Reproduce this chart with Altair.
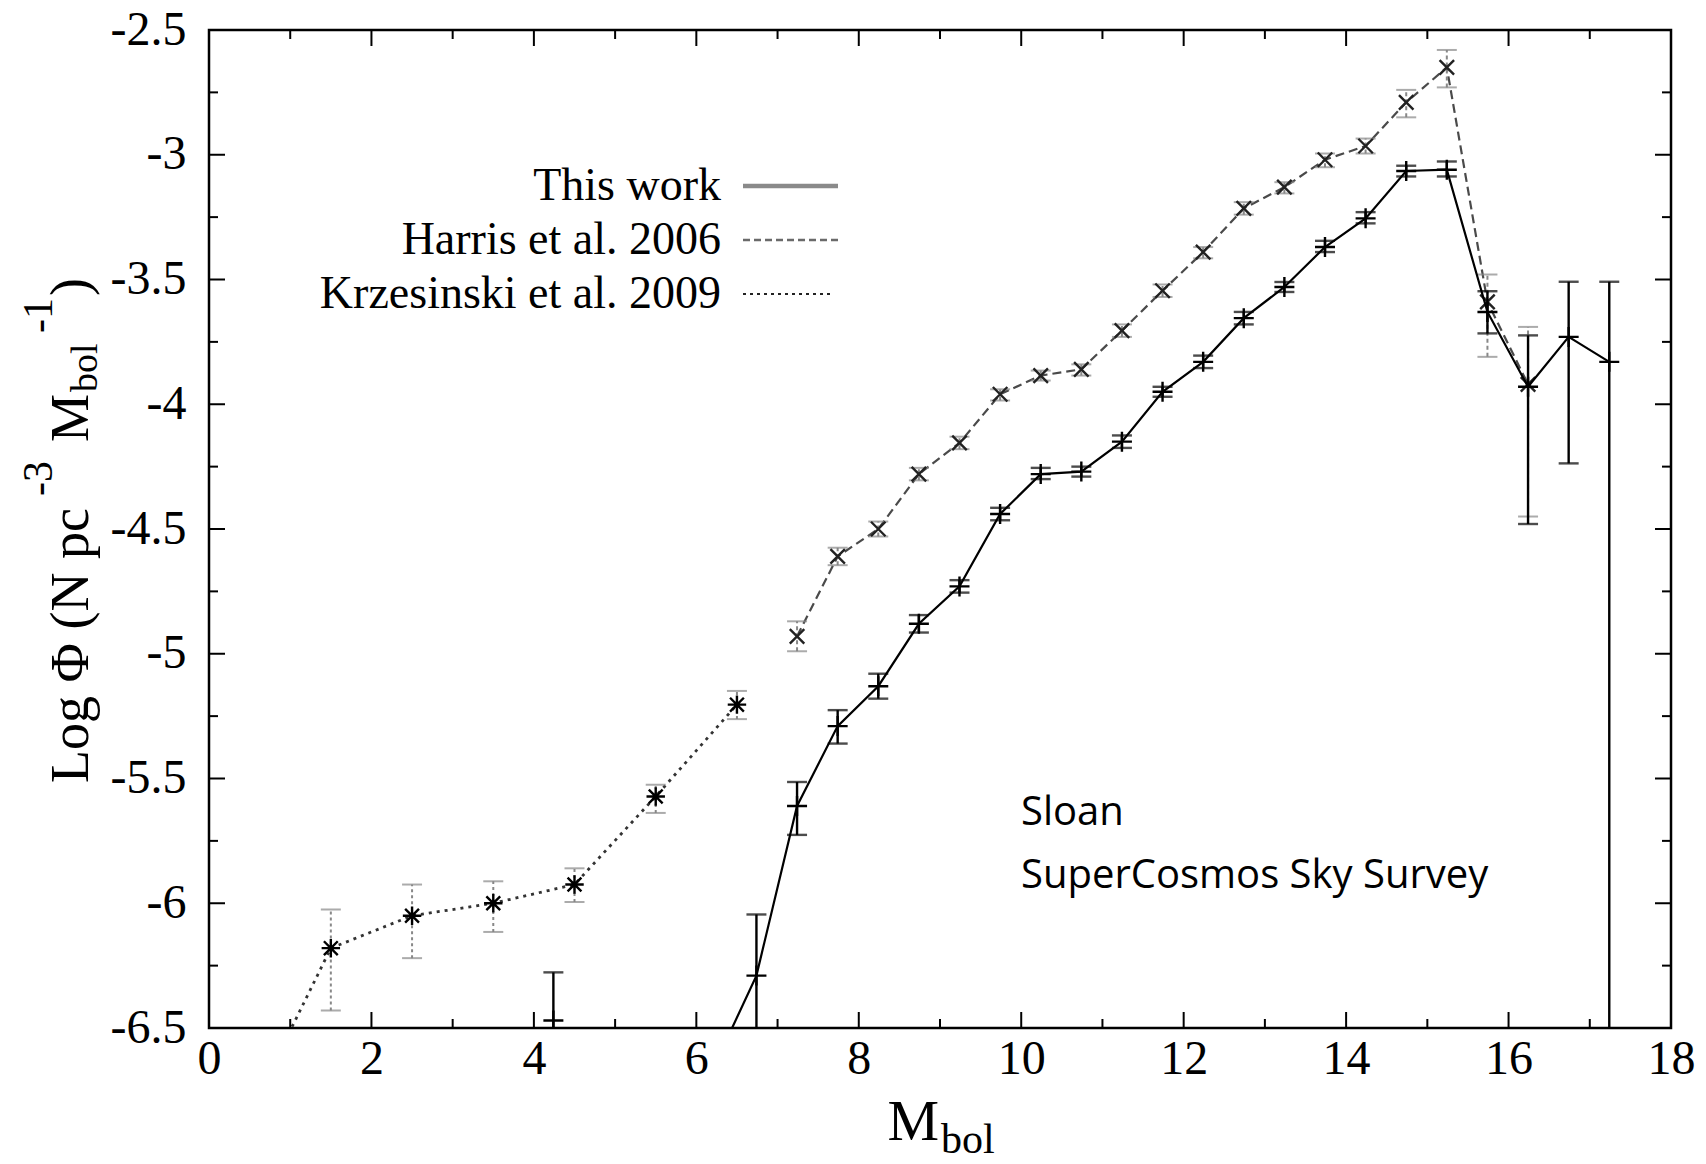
import altair as alt
import pandas as pd

# ---------------- data ----------------
# This work (solid)
this_x = [4.24, 6.24, 6.74, 7.24, 7.74, 8.24, 8.74, 9.24, 9.74, 10.24, 10.74, 11.24, 11.74,
          12.24, 12.74, 13.24, 13.74, 14.24, 14.74, 15.24, 15.74, 16.24, 16.74, 17.24]
this_y = [-6.47, -6.64, -6.29, -5.61, -5.29, -5.13, -4.88, -4.73, -4.44, -4.28, -4.27, -4.15, -3.95,
          -3.83, -3.655, -3.53, -3.37, -3.255, -3.065, -3.06, -3.63, -3.93, -3.73, -3.83]
this_lo = [-7.0, -6.64, -6.7, -5.726, -5.36, -5.18, -4.915, -4.755, -4.465, -4.30, -4.29, -4.175, -3.97,
           -3.855, -3.68, -3.55, -3.39, -3.275, -3.087, -3.087, -3.716, -4.48, -4.237, -7.5]
this_hi = [-6.277, -6.64, -6.045, -5.514, -5.226, -5.08, -4.845, -4.705, -4.415, -4.255, -4.25, -4.125, -3.93,
           -3.805, -3.63, -3.51, -3.345, -3.23, -3.044, -3.027, -3.547, -3.724, -3.509, -3.509]
this_seg = [0, 1, 1, 1, 1, 1, 1, 1, 1, 1, 1, 1, 1, 1, 1, 1, 1, 1, 1, 1, 1, 1, 1, 1]

# Harris et al. 2006 (dashed)
harris_x = [7.24, 7.74, 8.24, 8.74, 9.24, 9.74, 10.24, 10.74, 11.24, 11.74, 12.24, 12.74,
            13.24, 13.74, 14.24, 14.74, 15.24, 15.74, 16.24]
harris_y = [-4.93, -4.61, -4.50, -4.28, -4.155, -3.96, -3.885, -3.86, -3.705, -3.545, -3.39, -3.215,
            -3.13, -3.02, -2.965, -2.79, -2.65, -3.59, -3.92]
harris_lo = [-4.99, -4.645, -4.53, -4.305, -4.18, -3.985, -3.905, -3.885, -3.73, -3.57, -3.415, -3.24,
             -3.155, -3.05, -2.995, -2.85, -2.73, -3.81, -4.45]
harris_hi = [-4.87, -4.575, -4.47, -4.255, -4.13, -3.94, -3.865, -3.84, -3.68, -3.52, -3.37, -3.19,
             -3.11, -2.995, -2.935, -2.74, -2.58, -3.48, -3.69]

# Krzesinski et al. 2009 (dotted)
krz_x = [0.5, 1.5, 2.5, 3.5, 4.5, 5.5, 6.5]
krz_y = [-6.84, -6.18, -6.05, -6.0, -5.925, -5.572, -5.204]
krz_lo = [-6.84, -6.43, -6.22, -6.115, -5.995, -5.638, -5.262]
krz_hi = [-6.84, -6.025, -5.925, -5.912, -5.86, -5.525, -5.149]

# axis ticks
x_major = [0, 2, 4, 6, 8, 10, 12, 14, 16, 18]
x_minor = [1, 3, 5, 7, 9, 11, 13, 15, 17]
y_major = [-6.5, -6.0, -5.5, -5.0, -4.5, -4.0, -3.5, -3.0, -2.5]
y_minor = [-6.25, -5.75, -5.25, -4.75, -4.25, -3.75, -3.25, -2.75]

legend_labels = ["This work", "Harris et al. 2006", "Krzesinski et al. 2009"]
note_lines = ["Sloan", "SuperCosmos Sky Survey"]

# ---------------- layout ----------------
W, H = 1462, 998
SERIF = "Liberation Serif"

this_df = pd.DataFrame({"x": this_x, "y": this_y, "lo": this_lo, "hi": this_hi, "seg": this_seg})
harris_df = pd.DataFrame({"x": harris_x, "y": harris_y, "lo": harris_lo, "hi": harris_hi})
krz_df = pd.DataFrame({"x": krz_x, "y": krz_y, "lo": krz_lo, "hi": krz_hi})

xscale = alt.Scale(domain=[0, 18], nice=False, zero=False)
yscale = alt.Scale(domain=[-6.5, -2.5], nice=False, zero=False)

xaxis = alt.Axis(values=x_major, labelExpr="toString(datum.value)", labelFont=SERIF,
                 labelFontSize=48, labelColor="black", ticks=False, domain=False, grid=False,
                 labelPadding=7, labelFlush=False, labelOverlap=False, title=None)
yaxis = alt.Axis(values=y_major, labelExpr="toString(datum.value)", labelFont=SERIF,
                 labelFontSize=48, labelColor="black", ticks=False, domain=False, grid=False,
                 labelPadding=23, labelOverlap=False, title=None)


def X(f):
    return alt.X(f"{f}:Q", scale=xscale, axis=xaxis)


def Y(f):
    return alt.Y(f"{f}:Q", scale=yscale, axis=yaxis)


PLUS = "M-1,0L1,0M0,-1L0,1"
XSHAPE = "M-1,-1L1,1M-1,1L1,-1"
STAR = "M-1,0L1,0M0,-1L0,1M-0.75,-0.75L0.75,0.75M-0.75,0.75L0.75,-0.75"

layers = []


def series(df, line_kw, err_kw, shape, size, mcolor, mwidth, detail=None):
    enc = dict(x=X("x"), y=Y("y"))
    if detail:
        enc["detail"] = alt.Detail(f"{detail}:N")
    out = [alt.Chart(df).mark_line(clip=True, **line_kw).encode(**enc)]
    out.append(alt.Chart(df).mark_rule(clip=True, **err_kw).encode(x=X("x"), y=Y("lo"), y2=alt.Y2("hi")))
    cap_kw = {k: v for k, v in err_kw.items() if k != "strokeDash"}
    for f in ["lo", "hi"]:
        out.append(alt.Chart(df).mark_tick(clip=True, orient="horizontal", size=20,
                                           thickness=cap_kw.get("strokeWidth", 2),
                                           color=cap_kw.get("color", "black"))
                   .encode(x=X("x"), y=Y(f)))
    out.append(alt.Chart(df).mark_point(clip=True, shape=shape, size=size, filled=False,
                                        stroke=mcolor, strokeWidth=mwidth, opacity=1)
               .encode(x=X("x"), y=Y("y")))
    return out


layers += series(krz_df, dict(color="#333333", strokeWidth=2.8, strokeDash=[3, 5]),
                 dict(color="#888888", strokeWidth=2, strokeDash=[3, 3]), STAR, 340, "black", 2.4)
layers += series(harris_df, dict(color="#4a4a4a", strokeWidth=2.2, strokeDash=[9, 5]),
                 dict(color="#888888", strokeWidth=2, strokeDash=[4, 3]), XSHAPE, 210, "#222222", 2.4)
layers += series(this_df, dict(color="black", strokeWidth=2.2),
                 dict(color="black", strokeWidth=2.4), PLUS, 400, "black", 2.4, detail="seg")

# inward ticks on all four sides
for vals, L in [(x_major, 16), (x_minor, 9)]:
    d = pd.DataFrame({"v": vals})
    layers.append(alt.Chart(d).mark_rule(color="black", strokeWidth=2)
                  .encode(x=X("v"), y=alt.value(H), y2=alt.value(H - L)))
    layers.append(alt.Chart(d).mark_rule(color="black", strokeWidth=2)
                  .encode(x=X("v"), y=alt.value(0), y2=alt.value(L)))
for vals, L in [(y_major, 16), (y_minor, 9)]:
    d = pd.DataFrame({"v": vals})
    layers.append(alt.Chart(d).mark_rule(color="black", strokeWidth=2)
                  .encode(y=Y("v"), x=alt.value(0), x2=alt.value(L)))
    layers.append(alt.Chart(d).mark_rule(color="black", strokeWidth=2)
                  .encode(y=Y("v"), x=alt.value(W), x2=alt.value(W - L)))

# legend (inside the plot, upper left)
leg_rows = [156, 210, 264]
leg_styles = [dict(color="#8a8a8a", strokeWidth=4.5),
              dict(color="#6a6a6a", strokeWidth=2.5, strokeDash=[7, 4]),
              dict(color="#222222", strokeWidth=2, strokeDash=[3, 4])]
leg_ends = [629, 629, 623]
one = pd.DataFrame({"a": [0]})
for lab, yy, st, xe in zip(legend_labels, leg_rows, leg_styles, leg_ends):
    layers.append(alt.Chart(one).mark_text(text=lab, font=SERIF, fontSize=46, color="black",
                                           align="right", baseline="middle")
                  .encode(x=alt.value(512), y=alt.value(yy)))
    layers.append(alt.Chart(one).mark_rule(**st)
                  .encode(x=alt.value(534), x2=alt.value(xe), y=alt.value(yy)))

# annotation
for txt, yy in zip(note_lines, [795, 858]):
    layers.append(alt.Chart(one).mark_text(text=txt, font="Open Sans", fontSize=40, color="black",
                                           align="left", baseline="alphabetic")
                  .encode(x=alt.value(812), y=alt.value(yy)))

# x-axis title  M_bol
layers.append(alt.Chart(one).mark_text(text="M", font=SERIF, fontSize=58, color="black",
                                       align="right", baseline="alphabetic")
              .encode(x=alt.value(730), y=alt.value(1110)))
layers.append(alt.Chart(one).mark_text(text="bol", font=SERIF, fontSize=42, color="black",
                                       align="left", baseline="alphabetic")
              .encode(x=alt.value(732), y=alt.value(1123)))

# y-axis title  Log Φ (N pc^-3 M_bol^-1 )  (rotated pieces, baseline on the right side)
ypieces = [("Log Φ (N pc", 753, -121, 54), ("-3", 466, -157, 42), ("M", 412, -121, 54),
           ("bol", 362, -112, 38), ("-1", 303, -157, 42), (")", 266, -121, 54)]
for txt, yy, xx, fs in ypieces:
    layers.append(alt.Chart(one).mark_text(text=txt, font=SERIF, fontSize=fs, color="black",
                                           align="left", baseline="alphabetic", angle=270)
                  .encode(x=alt.value(xx), y=alt.value(yy)))

chart = (alt.layer(*layers)
         .properties(width=W, height=H, background="white",
                     padding={"left": 209, "top": 30, "right": 35, "bottom": 136},
                     autosize=alt.AutoSizeParams(type="none"))
         .configure_view(stroke="black", strokeWidth=2.5))

chart.save("out.html", embed_options={"renderer": "svg", "actions": False})
